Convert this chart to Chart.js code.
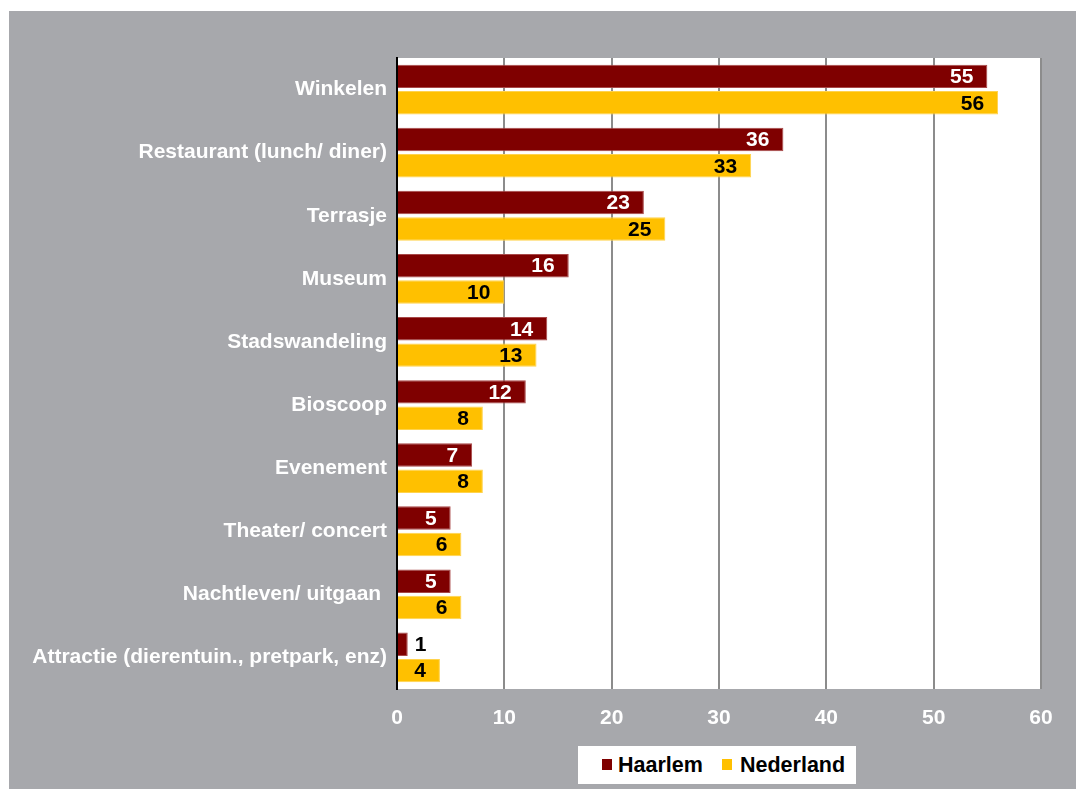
<!DOCTYPE html>
<html>
<head>
<meta charset="utf-8">
<script src="https://cdn.jsdelivr.net/npm/chart.js@4.4.1/dist/chart.umd.min.js"></script>
<style>
  html, body { margin: 0; padding: 0; background: #ffffff; }
  #frame {
    position: absolute; left: 9px; top: 11px; width: 1067px; height: 778px;
    background: #a7a8ac;
  }
  #legend {
    position: absolute; left: 569px; top: 735px; width: 278px; height: 38px;
    background: #ffffff; font: bold 21.5px 'Liberation Sans', Arial, sans-serif;
    color: #000;
  }
  .leg-item { position: absolute; top: 7px; line-height: 24px; }
  .leg-box { position: absolute; width: 10px; height: 11px; }
</style>
</head>
<body>
<div id="frame">
  <canvas id="chart" width="1067" height="778"></canvas>
  <div id="legend"></div>
</div>
<script>
const categorieen = [
  'Winkelen',
  'Restaurant (lunch/ diner)',
  'Terrasje',
  'Museum',
  'Stadswandeling',
  'Bioscoop',
  'Evenement',
  'Theater/ concert',
  'Nachtleven/ uitgaan ',
  'Attractie (dierentuin., pretpark, enz)'
];
const haarlem = [55, 36, 23, 16, 14, 12, 7, 5, 5, 1];
const nederland = [56, 33, 25, 10, 13, 8, 8, 6, 6, 4];
const xTicks = [0, 10, 20, 30, 40, 50, 60];

const ROOD = '#7f0000';
const GEEL = '#ffc000';
const FONT = "'Liberation Sans', Arial, sans-serif";

// witte plotachtergrond
const plotAchtergrond = {
  id: 'plotAchtergrond',
  beforeDraw(chart) {
    const { ctx, chartArea } = chart;
    ctx.save();
    ctx.fillStyle = '#ffffff';
    ctx.fillRect(chartArea.left, chartArea.top, chartArea.right - chartArea.left, chartArea.bottom - chartArea.top);
    ctx.restore();
  }
};

// waardelabels aan het einde van de balken
const waardeLabels = {
  id: 'waardeLabels',
  afterDatasetsDraw(chart) {
    const { ctx } = chart;
    ctx.save();
    ctx.font = 'bold 21px ' + FONT;
    ctx.textBaseline = 'middle';
    chart.data.datasets.forEach((ds, i) => {
      const meta = chart.getDatasetMeta(i);
      meta.data.forEach((bar, j) => {
        const tekst = String(ds.data[j]);
        const breedte = ctx.measureText(tekst).width;
        const lengte = bar.x - bar.base;
        if (lengte > breedte + 22) {
          ctx.fillStyle = i === 0 ? '#ffffff' : '#000000';
          ctx.textAlign = 'right';
          ctx.fillText(tekst, bar.x - 14, bar.y + 1);
        } else {
          ctx.fillStyle = '#000000';
          ctx.textAlign = 'left';
          ctx.fillText(tekst, bar.x + 7, bar.y + 1);
        }
      });
    });
    ctx.restore();
  }
};

new Chart(document.getElementById('chart'), {
  type: 'bar',
  data: {
    labels: categorieen,
    datasets: [
      {
        label: 'Haarlem',
        data: haarlem,
        backgroundColor: ROOD,
        borderColor: '#a84848',
        borderWidth: 1,
        borderSkipped: 'start',
        barPercentage: 0.89,
        categoryPercentage: 0.835
      },
      {
        label: 'Nederland',
        data: nederland,
        backgroundColor: GEEL,
        borderColor: '#ffd34d',
        borderWidth: 1,
        borderSkipped: 'start',
        barPercentage: 0.89,
        categoryPercentage: 0.835
      }
    ]
  },
  options: {
    indexAxis: 'y',
    responsive: false,
    animation: false,
    layout: {
      padding: { top: 47, right: 35, bottom: 50, left: 0 }
    },
    scales: {
      x: {
        min: 0,
        max: 60,
        afterFit(scale) { scale.height = 50; },
        afterBuildTicks(scale) {
          scale.ticks = xTicks.map(v => ({ value: v }));
        },
        grid: { color: '#8c8c8c', lineWidth: 2, drawTicks: false },
        border: { display: false },
        ticks: {
          color: '#ffffff',
          padding: 17,
          font: { family: FONT, size: 21, weight: 'bold' }
        }
      },
      y: {
        afterFit(scale) { scale.width = 388; },
        grid: { display: false, drawTicks: false },
        border: { display: true, color: '#000000', width: 2 },
        ticks: {
          color: '#ffffff',
          padding: 10,
          font: { family: FONT, size: 21, weight: 'bold' }
        }
      }
    },
    plugins: {
      legend: { display: false },
      tooltip: { enabled: false }
    }
  },
  plugins: [plotAchtergrond, waardeLabels]
});

// legenda
const legenda = document.getElementById('legend');
[
  { naam: 'Haarlem', kleur: ROOD, box: 24, tekst: 40 },
  { naam: 'Nederland', kleur: GEEL, box: 144, tekst: 162 }
].forEach(item => {
  const box = document.createElement('span');
  box.className = 'leg-box';
  box.style.left = item.box + 'px';
  box.style.top = '13px';
  box.style.background = item.kleur;
  legenda.appendChild(box);
  const tekst = document.createElement('span');
  tekst.className = 'leg-item';
  tekst.style.left = item.tekst + 'px';
  tekst.textContent = item.naam;
  legenda.appendChild(tekst);
});
</script>
</body>
</html>
